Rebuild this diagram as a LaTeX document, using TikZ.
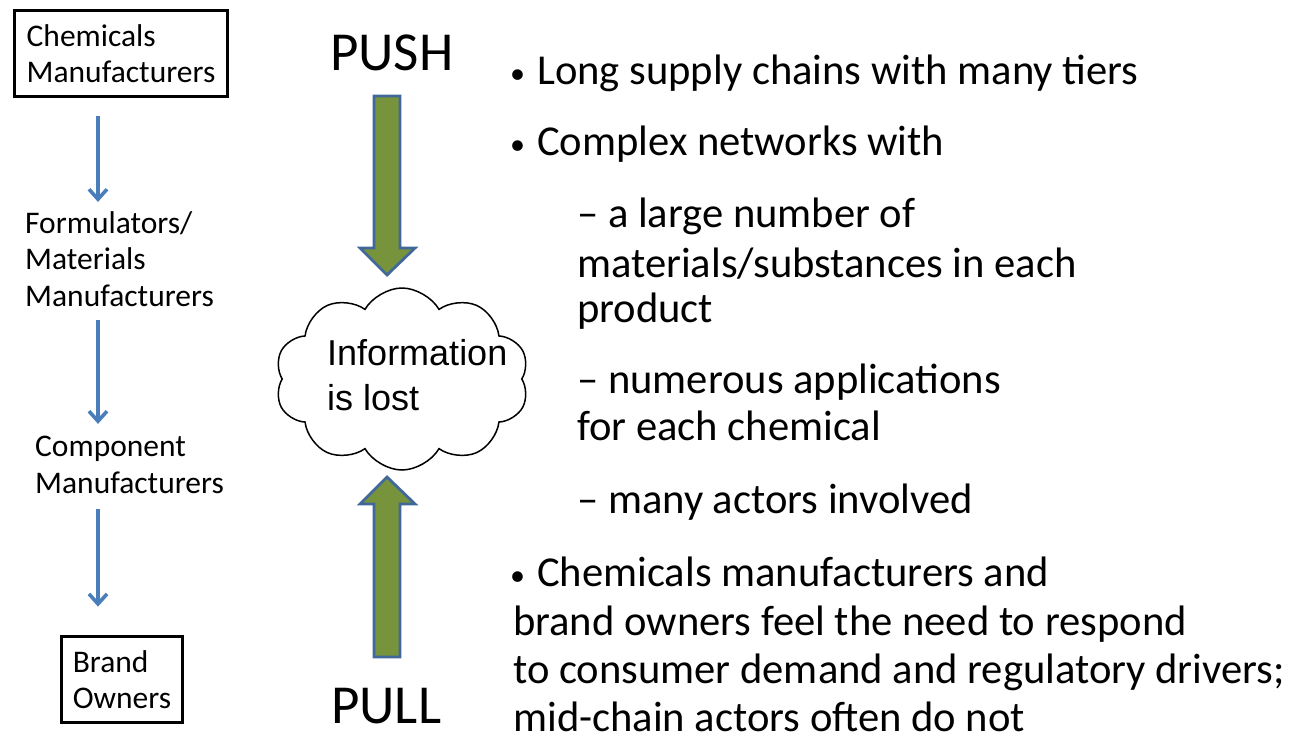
\documentclass[tikz,border=0pt]{standalone}
\usepackage{fontspec}
\setmainfont{Carlito}
\newfontfamily\arialfont{Liberation Sans}
\usetikzlibrary{shapes.symbols,arrows.meta}
\definecolor{flowblue}{HTML}{4A7EBB}
\definecolor{olivefill}{HTML}{77933C}
\definecolor{arrowedge}{HTML}{41689A}
\newcommand\bul{\makebox[24pt][l]{\hspace{-3pt}\fontsize{30}{30}\selectfont\raisebox{1pt}{•}}}
\begin{document}
\begin{tikzpicture}[x=1pt,y=-1pt,
  stage/.style={draw=black, line width=3.8pt, inner sep=0pt, align=left,
    font=\fontsize{31.5}{36.5}\selectfont},
  lefttext/.style={inner sep=0pt, align=left, anchor=base west,
    font=\fontsize{31.5}{36.5}\selectfont},
  flow/.style={draw=flowblue, line width=3.6pt,
    -{Straight Barb[length=10pt,width=18pt,line width=3.6pt]}},
  bigarrow/.style={fill=olivefill, draw=arrowedge, line width=2.8pt, line join=miter},
  bodytext/.style={anchor=base west, inner sep=0pt, font=\fontsize{42.6}{50}\selectfont},
  bigword/.style={anchor=base west, inner sep=0pt, font=\fontsize{55}{60}\selectfont},
]
\useasboundingbox (0,0) rectangle (1289,740);

% left column
\node[stage, minimum width=213, minimum height=86] (chem) at (121,53.5) {Chemicals\\Manufacturers};
\node[lefttext] (form) at (25,306) {Formulators/\\Materials\\Manufacturers};
\node[lefttext] (comp) at (35,493) {Component\\Manufacturers};
\node[stage, minimum width=121, minimum height=86] (brand) at (122,679.5) {Brand\\Owners};

\coordinate (ax) at (98,0);
\draw[flow] ([yshift=-18pt]chem.south -| ax) -- ([yshift=9pt]form.north -| ax);
\draw[flow] ([yshift=-14pt]form.south -| ax) -- ([yshift=12pt]comp.north -| ax);
\draw[flow] ([yshift=-16pt]comp.south -| ax) -- ([yshift=28pt]brand.north -| ax);

% push / pull
\node[bigword] (push) at (330,70) {PUSH};
\node[bigword, text depth=0pt] (pull) at (331,723) {PULL};

\draw[bigarrow] (374,96) -- (400,96) -- (400,248) -- (415,248) -- (387,275) -- (360,248) -- (374,248) -- cycle;
\draw[bigarrow] (374,657) -- (400,657) -- (400,504) -- (415,504) -- (387,477) -- (360,504) -- (374,504) -- cycle;

% cloud
\node[cloud, draw=black, line width=1.5pt, fill=white, cloud puffs=10, cloud puff arc=120, aspect=1.4,
  minimum width=254, minimum height=182, inner sep=0pt] (cloud) at (402,379) {};
\node[anchor=base west, inner sep=0pt, align=left, font=\arialfont\fontsize{36}{45}\selectfont] (info) at (327,410) {Information\\is lost};

% right text
\node[bodytext] (r1) at (513,84) {\bul Long supply chains with many tiers};
\node[bodytext] (r2) at (513,155) {\bul Complex networks with};
\node[bodytext] (r3) at (577,227) {– a large number of};
\node[bodytext] (r4) at (577,277) {materials/substances in each};
\node[bodytext] (r5) at (577,322) {product};
\node[bodytext] (r6) at (577,393) {– numerous applications};
\node[bodytext] (r7) at (577,440) {for each chemical};
\node[bodytext] (r8) at (577,513) {– many actors involved};
\node[bodytext] (r9) at (513,586) {\bul Chemicals manufacturers and};
\node[bodytext] (r10) at (513,635) {brand owners feel the need to respond};
\node[bodytext] (r11) at (513,683) {to consumer demand and regulatory drivers;};
\node[bodytext, text depth=0pt] (r12) at (513,731) {mid-chain actors often do not};
\end{tikzpicture}
\end{document}
